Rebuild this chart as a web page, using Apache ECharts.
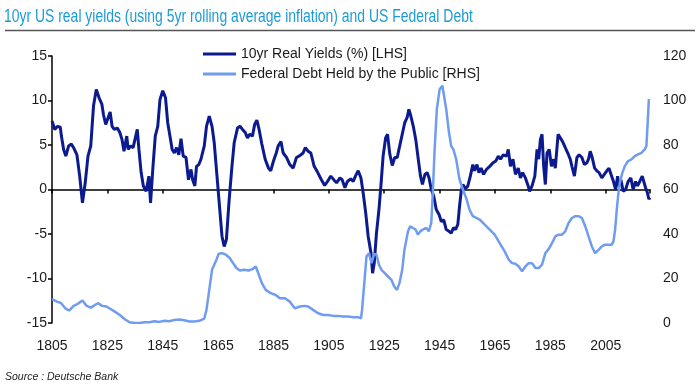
<!DOCTYPE html>
<html>
<head>
<meta charset="utf-8">
<script src="https://cdn.jsdelivr.net/npm/echarts@6/dist/echarts.min.js"></script>
<style>html,body{margin:0;padding:0;background:#fff;}#c{width:700px;height:390px;}</style>
</head>
<body>
<div id="c"></div>
<script>
// Data
var yieldYears = [1805,1806,1807,1808,1808.4,1809.2,1810,1811,1812,1812.8,1814,1815,1816,1817,1818,1819,1820,1821,1822,1823,1823.6,1824.4,1825,1826,1826.7,1827.5,1828.6,1829.5,1830.3,1831,1832,1832.5,1833.4,1834.3,1835,1835.8,1836.4,1837.2,1838,1839,1840,1840.6,1841.4,1842.3,1843.2,1844,1845,1846,1846.8,1847.6,1848.4,1849.2,1850,1850.8,1851.6,1852.4,1853.4,1854.3,1855.2,1855.8,1856.6,1857.2,1858,1858.8,1860,1860.8,1861.8,1862.8,1863.6,1864.8,1865.6,1866.4,1867.2,1868,1869,1870,1870.8,1872,1872.9,1873.8,1874.8,1875.6,1876.4,1877.4,1878.2,1879,1879.8,1880.8,1882,1883.2,1884,1885,1886,1886.7,1887.7,1888.5,1889.7,1890.9,1892.1,1893.3,1894.5,1895.7,1896.5,1897.5,1898.5,1899.7,1901,1902.3,1903.5,1904.5,1905.7,1906.9,1907.8,1909,1909.8,1910.8,1911.7,1912.9,1913.8,1914.6,1915.6,1916.6,1917.4,1918.3,1919.2,1920.2,1920.8,1921.4,1922.2,1923.1,1923.8,1924.6,1925.5,1926.2,1927,1927.9,1928.8,1929.7,1930.6,1931.5,1932.4,1933.3,1933.9,1934.5,1935.5,1936.4,1937.3,1938.1,1938.8,1939.7,1940.5,1941.2,1942,1942.9,1943.8,1944.8,1945.6,1946.5,1947.4,1948.4,1949.2,1950,1950.8,1951.6,1952.2,1952.8,1953.4,1954.4,1955.2,1956.1,1957,1957.6,1958.5,1959.2,1960,1960.9,1961.9,1963.1,1964.3,1965.3,1966.2,1967,1968,1969.2,1969.8,1970.6,1971.5,1972.4,1973.4,1974.2,1975,1976,1977,1977.5,1978.4,1979.4,1980.2,1980.8,1981.4,1982,1982.6,1983.2,1983.8,1984.6,1985.4,1986.2,1986.8,1987.8,1988.6,1989.4,1990.4,1991.3,1992.2,1992.8,1993.7,1994.6,1995.4,1996.4,1997.3,1998.2,1998.8,1999.4,2000,2001,2001.8,2002.6,2003.6,2004.5,2005.4,2006.2,2006.9,2007.8,2008.6,2009.3,2009.8,2010.5,2011.3,2012.2,2013.1,2014.1,2014.9,2015.8,2016.5,2017.3,2018.2,2018.9,2019.4,2020.1,2020.6,2020.9];
var yieldValues = [7.7,6.75,7.1,7.0,6.0,4.5,3.75,4.9,5.1,4.7,3.9,1.5,-1.5,0.75,3.75,4.9,9.4,11.25,10.3,9.6,8.4,7.3,7.3,8.7,7.1,6.75,6.9,6.4,5.6,4.3,6.0,4.5,4.9,4.7,4.9,6.75,4.5,1.9,0.4,-0.2,1.5,-1.5,2.25,6.0,7.1,10.1,11.1,10.3,7.5,6.0,4.5,4.1,4.7,3.9,5.7,3.75,3.6,1.1,2.25,1.1,0.4,2.6,2.8,3.4,4.9,7.1,8.25,7.1,5.25,0.75,-2.25,-5.25,-6.4,-5.6,-1.1,2.6,5.25,6.9,7.1,6.75,6.4,5.8,6.2,6.0,7.3,7.8,6.75,5.1,3.4,2.4,2.1,3.2,4.1,4.9,5.4,4.1,3.6,2.8,2.4,3.6,3.8,4.1,4.7,4.3,4.1,2.6,1.9,1.1,0.45,0.9,1.5,1.05,0.75,1.3,1.1,0.2,0.9,1.2,0.9,1.5,2.1,1.3,-0.4,-2.6,-5.25,-7.1,-9.4,-8.25,-4.9,-2.25,0.4,3.75,5.8,6.2,4.0,2.7,3.6,3.6,4.9,6.2,7.5,8.1,9.0,8.4,7.1,5.6,3.4,1.5,0.56,1.7,1.9,1.3,0,-0.75,-2.25,-2.8,-3.6,-3.4,-4.5,-4.7,-4.9,-4.3,-4.5,-3.9,-1.9,-0.2,0.56,0.1,0.4,1.5,2.8,2.1,2.8,1.9,2.4,1.7,2.25,2.6,3.0,3.2,3.75,3.4,3.9,3.75,4.5,2.6,3.4,1.7,2.4,1.3,1.9,1.3,0.4,-0.2,0.4,1.5,4.5,3.4,5.6,6.2,2.6,0.56,4.1,4.5,2.6,3.4,2.4,6.2,5.8,5.4,4.7,4.1,3.4,2.6,1.5,3.6,3.9,3.6,2.8,3.0,3.4,4.3,3.75,2.4,2.1,1.9,1.3,1.7,2.1,2.4,1.7,0.9,0,1.5,0.4,1.1,-0.2,0,0.9,1.3,0,0.9,0.4,0.9,1.5,1.3,0.2,-0.4,-1.1,-0.9];

var debtYears = [1805,1806.8,1808.3,1809.8,1811.2,1812.8,1814.3,1816,1817.5,1819.1,1820.5,1821.7,1823.1,1824.7,1826.3,1827.7,1829.5,1831.3,1833,1834.9,1836.6,1838.4,1840.2,1842,1843.8,1845.6,1847.4,1849.2,1851,1852.8,1854.6,1856.4,1858.2,1860,1860.8,1861.8,1862.8,1863.6,1864.4,1865.2,1866.4,1867.8,1869.2,1870.4,1871.6,1872.9,1874.4,1876,1877.4,1878.6,1879.6,1880.8,1882.2,1884,1885.8,1887.3,1889.1,1890.9,1892.7,1894.5,1896.3,1897.5,1899.3,1901.1,1903,1904.8,1906.6,1908.4,1910.2,1912,1913.8,1915.6,1916.6,1917,1917.8,1918.6,1919.5,1920.4,1921.4,1922.2,1923.1,1924,1925.2,1926.4,1927.6,1928.6,1929.6,1930.5,1931.5,1932.3,1933.6,1934.4,1935.4,1936.3,1937.2,1938,1939,1940.2,1941.1,1942,1942.6,1943.2,1944,1945,1946,1946.6,1947.4,1948.4,1949.2,1950,1951,1952.2,1953.4,1954.6,1955.8,1957,1958.3,1959.5,1961.3,1963.1,1964.9,1966.7,1968.5,1970,1971.2,1972.4,1973.6,1974.8,1976,1977.2,1978.4,1979.6,1980.8,1982,1983.2,1984.4,1985.6,1986.8,1988,1989.2,1990.4,1991.6,1992.8,1994,1995.2,1996.4,1997.6,1998.8,2000,2001.2,2002.4,2003.6,2004.8,2006,2007.2,2007.8,2008.4,2009,2009.6,2010.1,2011,2011.9,2013.1,2014.3,2015.5,2016.7,2017.9,2019.1,2019.7,2020.1,2020.6];
var debtValues = [10.7,9.6,8.9,6.6,5.6,7.7,8.6,10.1,7.7,6.9,8.1,8.9,7.7,7.4,6.2,5.1,3.6,1.7,0.3,0,0,0.3,0.3,0.75,0.5,1.0,0.8,1.4,1.6,1.2,0.7,0.7,1.0,2.0,5.9,14.9,23.9,26.2,28.4,31.1,31.4,30.7,29.2,26.9,24.7,23.6,23.9,23.6,24.2,25.4,22.1,17.9,14.9,13.4,12.6,11.1,11.1,9.6,6.6,7.4,7.7,7.4,5.9,4.4,3.6,3.6,3.2,3.2,2.9,2.9,2.6,2.6,2.1,5.9,17.9,29.9,31.4,26.9,31.1,30.7,26.2,23.9,22.4,20.9,19.4,16.4,14.9,17.9,23.9,32.9,41.2,43.5,42.7,42.0,39.7,41.2,42,42.7,41.2,45,60,78,96,105,106.6,105.9,96,85.6,79.5,78,73.5,64.5,60,56.2,51,48,47.2,46.5,44.2,42,39.7,35.9,32.2,28.4,26.9,26.6,25.4,23.2,25.4,26.9,26.9,24.7,24.7,26.2,31.4,33.2,35.9,38.9,39.7,39.7,41.2,45,47.2,48,48,47.2,43.5,38.9,34.4,31.4,32.9,34.4,35.2,35.2,35.2,36.7,42,51,58.5,63,67.5,70.5,72.8,73.5,75,75.8,76.5,78,79.5,88.6,100.6];

var seriesNames = ['10yr Real Yields (%) [LHS]', 'Federal Debt Held by the Public [RHS]'];
var titleText = '10yr US real yields (using 5yr rolling average inflation) and US Federal Debt';
var sourceText = 'Source : Deutsche Bank';

function pairs(xs, ys) { return xs.map(function (x, i) { return [x, ys[i]]; }); }

var chart = echarts.init(document.getElementById('c'), null, { renderer: 'canvas' });
var labelFont = { fontFamily: 'Liberation Sans, Arial, sans-serif', fontSize: 14, color: '#1a1a1a' };

chart.setOption({
  animation: false,
  backgroundColor: '#fff',
  graphic: [
    { type: 'text', x: 4, y: 8, scaleX: 0.82, scaleY: 1.03, z: 10,
      style: { text: titleText, fontFamily: 'Liberation Sans, Arial, sans-serif', fontSize: 17, fill: '#1c9bd7' } },
    { type: 'line', shape: { x1: 5, y1: 30.5, x2: 695, y2: 30.5 }, style: { stroke: '#555', lineWidth: 1.3 } },
    { type: 'text', left: 5, top: 372, style: { text: sourceText, fontFamily: 'Liberation Sans, Arial, sans-serif', fontSize: 10.5, fontStyle: 'italic', fill: '#222' } }
  ],
  legend: {
    orient: 'vertical', left: 203, top: 47, itemGap: 6, padding: 0,
    itemWidth: 33, itemHeight: 3, icon: 'rect',
    textStyle: { fontFamily: 'Liberation Sans, Arial, sans-serif', fontSize: 14, color: '#1a1a1a' },
    data: seriesNames
  },
  grid: { left: 52, right: 50, top: 56, bottom: 67, containLabel: false },
  xAxis: [
    {
      type: 'value', min: 1805, max: 2021, interval: 20, position: 'bottom',
      axisLine: { show: false, onZero: false }, axisTick: { show: false }, splitLine: { show: false },
      axisLabel: Object.assign({ margin: 16, showMaxLabel: false, formatter: function (v) { return String(v); } }, labelFont)
    },
    {
      type: 'value', min: 1805, max: 2021, interval: 20, position: 'bottom',
      axisLine: { show: true, onZero: true, onZeroAxisIndex: 0, lineStyle: { color: '#000', width: 1.5 } },
      axisTick: { show: true, length: 4, lineStyle: { color: '#000', width: 1.5 } },
      axisLabel: { show: false }, splitLine: { show: false }
    }
  ],
  yAxis: [
    {
      type: 'value', min: -15, max: 15, interval: 5, position: 'left',
      axisLine: { show: true, onZero: false, lineStyle: { color: '#000', width: 1.5 } },
      axisTick: { show: true, length: 4, lineStyle: { color: '#000', width: 1.5 } },
      splitLine: { show: false },
      axisLabel: Object.assign({ margin: 5 }, labelFont)
    },
    {
      type: 'value', min: 0, max: 120, interval: 20, position: 'right',
      axisLine: { show: false }, axisTick: { show: false }, splitLine: { show: false },
      axisLabel: Object.assign({ margin: 13 }, labelFont)
    }
  ],
  series: [
    {
      name: seriesNames[0], type: 'line', xAxisIndex: 0, yAxisIndex: 0,
      data: pairs(yieldYears, yieldValues), showSymbol: false, symbol: 'none',
      lineStyle: { color: '#0b1a8e', width: 3 }, itemStyle: { color: '#0b1a8e' }, z: 3
    },
    {
      name: seriesNames[1], type: 'line', xAxisIndex: 0, yAxisIndex: 1,
      data: pairs(debtYears, debtValues), showSymbol: false, symbol: 'none',
      lineStyle: { color: '#6f9cf0', width: 2.5 }, itemStyle: { color: '#6f9cf0' }, z: 4
    }
  ]
});
</script>
</body>
</html>
